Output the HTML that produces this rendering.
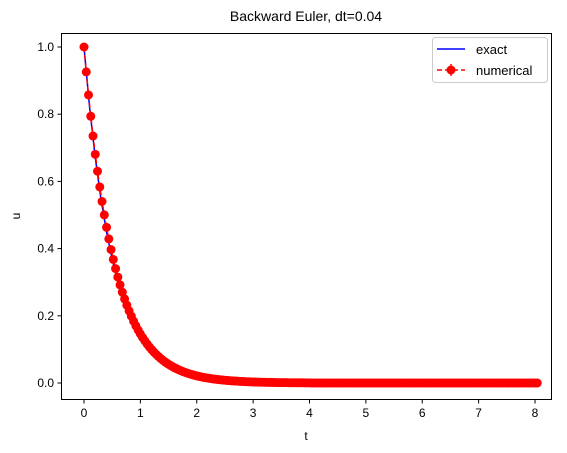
<!DOCTYPE html>
<html><head><meta charset="utf-8"><style>
body{margin:0;background:#fff;}
svg{display:block;font-family:"Liberation Sans","DejaVu Sans",sans-serif;}
</style></head><body>
<svg id="chart" width="567" height="453" viewBox="0 0 567 453">
<rect x="0" y="0" width="567" height="453" fill="#fff"/>
<text x="306" y="21" text-anchor="middle" font-size="14" fill="#000">Backward Euler, dt=0.04</text>
<g id="ticks"></g>
<g id="series"></g>
<rect x="61.5" y="33.5" width="490" height="366" fill="none" stroke="#000" stroke-width="1"/>
<text x="306" y="440" text-anchor="middle" font-size="12">t</text>
<text x="20" y="216" text-anchor="middle" font-size="12" transform="rotate(-90 20 216)">u</text>
<g>
<rect x="432.5" y="37.5" width="115" height="45" rx="3" fill="#fff" stroke="#ccc"/>
<line x1="437" y1="49" x2="465" y2="49" stroke="#0000ff" stroke-width="1.5"/>
<text x="476" y="54" font-size="13">exact</text>
<line x1="437" y1="70" x2="465" y2="70" stroke="#ff0000" stroke-width="1.5" stroke-dasharray="5,3"/>
<line x1="451" y1="64" x2="451" y2="76" stroke="#ff0000" stroke-width="1.5"/>
<circle cx="451" cy="70" r="4.5" fill="#ff0000"/>
<text x="476" y="75" font-size="13">numerical</text>
</g>
</svg>
<script>
const xTicks=[0,1,2,3,4,5,6,7,8];
const yTicks=[0.0,0.2,0.4,0.6,0.8,1.0];
const yTickLabels=["0.0","0.2","0.4","0.6","0.8","1.0"];
const dt=0.04;
const numU=[1,.9259,.8573,.7938,.7350,.6806,.6302,.5835,.5403,.5002,.4632,.4289,.3971,.3677,.3405,.3152,.2919,.2703,.2502,.2317,.2145,.1987,.1839,.1703,.1577,.1460,.1352,.1252,.1159,.1073,.0994,.0920,.0852,.0789,.0730,.0676,.0626,.0580,.0537,.0497,.0460,.0426,.0395,.0365,.0338,.0313,.0290,.0269,.0249,.0230,.0213,.0197,.0183,.0169,.0157,.0145,.0134,.0124,.0115,.0107,.0099,.0092,.0085,.0079,.0073,.0068,.0063,.0058,.0054,.0050,.0046,.0043,.0039,.0037,.0034,.0031,.0029,.0027,.0025,.0023,.0021,.0020,.0018,.0017,.0016,.0015,.0013,.0012,.0012,.0011,.0010,.0009,.0008,.0008,.0007,.0007,.0006,.0006,.0005,.0005,.0005,
0,0,0,0,0,0,0,0,0,0,0,0,0,0,0,0,0,0,0,0,0,0,0,0,0,0,0,0,0,0,0,0,0,0,0,0,0,0,0,0,0,0,0,0,0,0,0,0,0,0,0,0,0,0,0,0,0,0,0,0,0,0,0,0,0,0,0,0,0,0,0,0,0,0,0,0,0,0,0,0,0,0,0,0,0,0,0,0,0,0,0,0,0,0,0,0,0,0,0,0,0];
const exactT=[0,0.1,0.2,0.3,0.4,0.5,0.6,0.7,0.8,0.9,1.0,1.1,1.2,1.3,1.4,1.5,1.6,1.7,1.8,1.9,2.0,2.5,3,4,5,6,7,8];
const exactU=[1,.8187,.6703,.5488,.4493,.3679,.3012,.2466,.2019,.1653,.1353,.1108,.0907,.0743,.0608,.0498,.0408,.0334,.0273,.0224,.0183,.0067,.0025,.0003,0,0,0,0];
const X=t=>84+t*56.375, Y=u=>383-u*336;
const NS="http://www.w3.org/2000/svg";
const tk=document.getElementById('ticks'), sr=document.getElementById('series');
function mk(tag,attrs,parent){const e=document.createElementNS(NS,tag);for(const k in attrs)e.setAttribute(k,attrs[k]);parent.appendChild(e);return e;}
xTicks.forEach(v=>{
 const l=mk('line',{x1:X(v),x2:X(v),y1:400,y2:403.5,stroke:'#000'},tk);
 
 
 const t=mk('text',{x:X(v),y:417,'text-anchor':'middle','font-size':12},tk);t.textContent=v;
 
 
});
yTicks.forEach((v,i)=>{
 const l=mk('line',{x1:57.5,x2:61.5,y1:Y(v),y2:Y(v),stroke:'#000'},tk);
 
 
 const t=mk('text',{x:54,y:Y(v)+4,'text-anchor':'end','font-size':12},tk);t.textContent=yTickLabels[i];
 
 
});
const ed=exactU.map((u,i)=>(i?'L':'M')+X(exactT[i])+','+Y(u)).join('');
const ep=mk('path',{d:ed,fill:'none',stroke:'#0000ff','stroke-width':1.5},sr);


const nd=numU.map((u,i)=>(i?'L':'M')+X(i*dt)+','+Y(u)).join('');
const np=mk('path',{d:nd,fill:'none',stroke:'#ff0000','stroke-width':1.5,'stroke-dasharray':'5,3'},sr);


numU.forEach((u,i)=>{
 const c=mk('circle',{cx:X(i*dt),cy:Y(u),r:4.5,fill:'#ff0000'},sr);
 
 
});
</script>
</body></html>
